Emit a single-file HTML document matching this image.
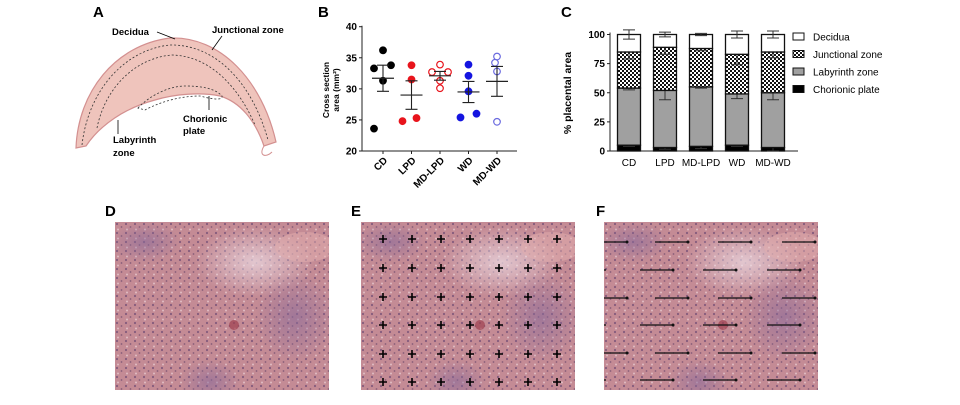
<!DOCTYPE html>
<html><head><meta charset="utf-8"><style>
html,body{margin:0;padding:0;background:#fff;}
body{width:960px;height:400px;overflow:hidden;font-family:"Liberation Sans",Arial,sans-serif;}
svg text{font-family:"Liberation Sans",Arial,sans-serif;}
</style></head><body>
<svg id="fig" width="960" height="400" viewBox="0 0 960 400">
<defs>
<pattern id="check" width="4" height="4" patternUnits="userSpaceOnUse"><rect width="4" height="4" fill="#fff"/><rect width="2" height="2" fill="#111"/><rect x="2" y="2" width="2" height="2" fill="#111"/></pattern>
<pattern id="cells" width="9" height="9" patternUnits="userSpaceOnUse"><circle cx="2" cy="2" r="1.1" fill="#5a3a6a" opacity="0.6"/><circle cx="6.5" cy="5" r="0.9" fill="#4a2f5a" opacity="0.5"/><circle cx="3" cy="7.5" r="1" fill="#fbeef0" opacity="0.5"/></pattern>
<radialGradient id="purp" cx="0.5" cy="0.5" r="0.5"><stop offset="0" stop-color="#8a6a9a" stop-opacity="0.6"/><stop offset="1" stop-color="#8a6a9a" stop-opacity="0"/></radialGradient>
<radialGradient id="pale" cx="0.5" cy="0.5" r="0.5"><stop offset="0" stop-color="#efe0e8" stop-opacity="0.7"/><stop offset="1" stop-color="#efe0e8" stop-opacity="0"/></radialGradient>
<clipPath id="hclip"><rect width="214" height="168"/></clipPath>
<g id="histo" clip-path="url(#hclip)">
<rect width="214" height="168" fill="#c48b95"/>
<rect width="214" height="168" fill="url(#cells)"/>
<ellipse cx="140" cy="40" rx="60" ry="35" fill="url(#pale)"/>
<ellipse cx="180" cy="95" rx="40" ry="45" fill="url(#purp)"/>
<ellipse cx="95" cy="160" rx="30" ry="22" fill="url(#purp)"/>
<ellipse cx="30" cy="20" rx="35" ry="20" fill="url(#purp)"/>
<ellipse cx="190" cy="25" rx="30" ry="15" fill="#e3b0b0" opacity="0.5"/>
<circle cx="119" cy="103" r="5" fill="#a04050" opacity="0.7"/>
</g>
</defs>

<!-- Panel A -->
<g>
<text x="93" y="17" font-size="15" font-weight="bold">A</text>
<path d="M76,148 C78,92 115,45 170,38 C220,36 262,80 276,142 L264,146 C255,120 240,102 220,96 C200,92 175,94 155,100 C125,108 100,125 86,146 Z" fill="#efc4bc" stroke="#d39090" stroke-width="1.2"/>
<path d="M82,145 C88,92 123,50 170,45 C215,44 252,82 268,140" fill="none" stroke="#333" stroke-width="0.8" stroke-dasharray="2,2"/>
<path d="M97,128 C105,88 135,58 172,55 C212,56 240,90 255,125" fill="none" stroke="#333" stroke-width="0.8" stroke-dasharray="2,2"/>
<path d="M138,108 C150,95 170,86 185,86 C200,86 215,88 222,96 C223,100 215,100 200,96 C180,96 160,102 145,110 Z" fill="none" stroke="#333" stroke-width="0.8" stroke-dasharray="2,2"/>
<path d="M264,146 C258,156 266,158 272,152" fill="none" stroke="#d39090" stroke-width="1"/>
<text x="112" y="35" font-size="9.5" font-weight="bold">Decidua</text>
<line x1="157" y1="32" x2="175" y2="39" stroke="#000" stroke-width="0.8"/>
<text x="212" y="33" font-size="9.5" font-weight="bold">Junctional zone</text>
<line x1="222" y1="36" x2="212" y2="50" stroke="#000" stroke-width="0.8"/>
<text x="183" y="122" font-size="9.5" font-weight="bold"><tspan x="183">Chorionic</tspan><tspan x="183" dy="12">plate</tspan></text>
<line x1="209" y1="96" x2="209" y2="110" stroke="#000" stroke-width="0.8"/>
<text x="113" y="143" font-size="9.5" font-weight="bold"><tspan x="113">Labyrinth</tspan><tspan x="113" dy="13">zone</tspan></text>
<line x1="118" y1="120" x2="118" y2="134" stroke="#000" stroke-width="0.8"/>
</g>

<!-- Panel B -->
<g id="panelB">
<text x="318" y="17" font-size="15" font-weight="bold">B</text>
<text transform="translate(329,90) rotate(-90)" text-anchor="middle" font-size="8.5" font-weight="bold"><tspan x="0" dy="0">Cross section</tspan><tspan x="0" dy="10">area (mm²)</tspan></text>
</g>

<!-- Panel C -->
<g id="panelC">
<text x="561" y="17" font-size="15" font-weight="bold">C</text>
<text transform="translate(571,93) rotate(-90)" text-anchor="middle" font-size="10.5" font-weight="bold">% placental area</text>
</g>

<!-- Panels D E F -->
<g>
<text x="105" y="216" font-size="15" font-weight="bold">D</text>
<use href="#histo" x="115" y="222"/>
</g>
<g>
<text x="351" y="216" font-size="15" font-weight="bold">E</text>
<use href="#histo" x="361" y="222"/>
<g id="crosses"></g>
</g>
<g>
<text x="596" y="216" font-size="15" font-weight="bold">F</text>
<use href="#histo" x="604" y="222"/>
<g id="lines"></g>
</g>
</svg>
<script>
// ---- Panel B data ----
const bCategories = ["CD","LPD","MD-LPD","WD","MD-WD"];
const bPoints = [[36.2,33.3,33.8,31.3,23.6],[33.8,31.5,24.8,25.3],[33.9,32.7,32.7,31.3,30.1],[33.9,32.1,29.6,25.4,26.0],[35.2,34.2,32.8,24.7]];
const bMeans = [31.7,29.0,32.1,29.5,31.2];
const bSem = [2.1,2.3,0.7,1.7,2.4];
const bColors = ["#000","#e8141c","#e8141c","#1414e0","#6a6adf"];
const bOpen = [false,false,true,false,true];
const bTicks = [20,25,30,35,40];
// ---- Panel C data ----
const cCategories = ["CD","LPD","MD-LPD","WD","MD-WD"];
const cChorionic = [5,3,4,5,3];
const cLabyrinth = [49,49,51,44,47];
const cJunctional = [31,37,33,34,35];
const cDecidua = [15,11,12,17,15];
const cErrChor = [1,1.5,2,1,3];
const cErrLab = [1.5,8,1,4,6];
const cErrJun = [6,6,2,9,5];
const cErrDec = [4,2,1,3,3];
const cTicks = [0,25,50,75,100];
const cLegend = ["Decidua","Junctional zone","Labyrinth zone","Chorionic plate"];

// horizontal jitter offsets (layout only)
const jitter = [[0,-9,8,0,-9],[0,0,-9,5],[0,-8,8,0,0],[0,0,0,-8,8],[0,-2,0,0]];

const NS="http://www.w3.org/2000/svg";
function mk(parent,tag,attrs,text){const e=document.createElementNS(NS,tag);for(const k in attrs)e.setAttribute(k,attrs[k]);if(text!==undefined)e.textContent=text;parent.appendChild(e);return e;}

// Panel B
(function(){
const g=document.getElementById('panelB');
const x0=362,x1=517,yTop=26.7,yBot=151;
const yS=v=>yBot-(v-20)/20*(yBot-yTop);
const xS=i=>383+i*28.5;
let l=mk(g,'line',{x1:x0,y1:yTop-1,x2:x0,y2:yBot,stroke:'#222','stroke-width':1});


l=mk(g,'line',{x1:x0,y1:yBot,x2:x1,y2:yBot,stroke:'#222','stroke-width':1});


bTicks.forEach(t=>{
 mk(g,'line',{x1:x0-3,y1:yS(t),x2:x0,y2:yS(t),stroke:'#222'});
 const tx=mk(g,'text',{x:x0-5,y:yS(t)+3.5,'text-anchor':'end','font-size':10,'font-weight':'bold'},t);
 
 
});
bCategories.forEach((c,i)=>{
 const x=xS(i);
 mk(g,'line',{x1:x,y1:yBot,x2:x,y2:yBot+3,stroke:'#222'});
 const tx=mk(g,'text',{transform:`translate(${x+5},${yBot+10}) rotate(-45)`,'text-anchor':'end','font-size':10,'font-weight':'bold'},c);
 
 
 bPoints[i].forEach((v,j)=>{
  const off=(jitter[i]&&jitter[i][j]!==undefined)?jitter[i][j]:0;
  const p=mk(g,'circle',{cx:x+off,cy:yS(v),r:3.3,fill:bOpen[i]?'none':bColors[i],stroke:bColors[i],'stroke-width':1.2});
  
  
 });
 const m=mk(g,'line',{x1:x-11,y1:yS(bMeans[i]),x2:x+11,y2:yS(bMeans[i]),stroke:'#222','stroke-width':1.2});
 
 
 const e=mk(g,'path',{d:`M${x},${yS(bMeans[i]+bSem[i])}V${yS(bMeans[i]-bSem[i])}M${x-6},${yS(bMeans[i]+bSem[i])}h12M${x-6},${yS(bMeans[i]-bSem[i])}h12`,stroke:'#222',fill:'none','stroke-width':1.1});
 
 
});
})();

// Panel C
(function(){
const g=document.getElementById('panelC');
const x0=610,x1=798,yTop=34.5,yBot=151;
const yS=v=>yBot-v/100*(yBot-yTop);
const xS=i=>629+i*36;
const bw=23;
let l=mk(g,'line',{x1:x0,y1:yTop-2,x2:x0,y2:yBot,stroke:'#222','stroke-width':1});


l=mk(g,'line',{x1:x0,y1:yBot,x2:x1,y2:yBot,stroke:'#222','stroke-width':1});


cTicks.forEach(t=>{
 mk(g,'line',{x1:x0-3,y1:yS(t),x2:x0,y2:yS(t),stroke:'#222'});
 const tx=mk(g,'text',{x:x0-5,y:yS(t)+3.5,'text-anchor':'end','font-size':10,'font-weight':'bold'},t);
 
 
});
const series=[[cChorionic,'#000',cErrChor,'chorionic-plate'],[cLabyrinth,'#a0a0a0',cErrLab,'labyrinth-zone'],[cJunctional,'url(#check)',cErrJun,'junctional-zone'],[cDecidua,'#fff',cErrDec,'decidua']];
cCategories.forEach((c,i)=>{
 const x=xS(i);
 let base=0;
 series.forEach(([arr,fill,err,nm])=>{
  const top=base+arr[i];
  const r=mk(g,'rect',{x:x-bw/2,y:yS(top),width:bw,height:yS(base)-yS(top),fill:fill,stroke:'#111','stroke-width':1.3});
  
  
  const e=mk(g,'path',{d:`M${x},${yS(top)}V${yS(top+err[i])}M${x-6},${yS(top+err[i])}h12M${x},${yS(top)}V${yS(top-err[i])}M${x-6},${yS(top-err[i])}h12`,stroke:'#333',fill:'none','stroke-width':1});
  
  
  base=top;
 });
 const tx=mk(g,'text',{x:x,y:yBot+15,'text-anchor':'middle','font-size':10},c);
 
 
});
const lf=['#fff','url(#check)','#a0a0a0','#000'];
cLegend.forEach((t,j)=>{
 const y=33+j*17.5;
 const r=mk(g,'rect',{x:793,y:y,width:11,height:7,fill:lf[j],stroke:'#111','stroke-width':1});
 
 
 const tx=mk(g,'text',{x:813,y:y+7.5,'font-size':10},t);
 
 
});
})();

// Panel E crosses
(function(){
const g=document.getElementById('crosses');
const xs=[383,412,441,470,499,528,557], ys=[239,268,297,325,354,382];
ys.forEach(y=>xs.forEach(x=>{
 const p=mk(g,'path',{d:`M${x-4},${y}h8M${x},${y-4}v8`,stroke:'#000','stroke-width':1.6});
 
 
}));
})();
// Panel F lines
(function(){
const g=document.getElementById('lines');
const ys=[242,270,298,325,353,380];
ys.forEach((y,r)=>{
 const starts=r%2===0?[594,655,718,782]:[573,640,703,767];
 starts.forEach(s=>{
  const a=Math.max(s,604),b=Math.min(s+33,828);
  if(b<=a)return;
  const p=mk(g,'line',{x1:a,y1:y,x2:b,y2:y,stroke:'#111','stroke-width':1.3});
  
  
  if(b>a+4){mk(g,'circle',{cx:b,cy:y,r:1.5,fill:'#111'});}
 });
});
})();
</script>
</body></html>
